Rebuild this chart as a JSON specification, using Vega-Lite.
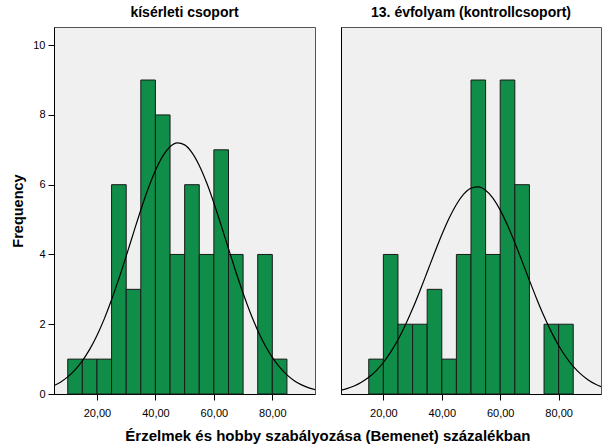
{
  "$schema": "https://vega.github.io/schema/vega-lite/v6.json",
  "padding": {"left": 10, "top": 5, "right": 5, "bottom": 5},
  "background": "white",
  "config": {
    "font": "Liberation Sans",
    "view": {"stroke": "#555555", "fill": "#F0F0F0", "strokeWidth": 1},
    "axis": {"grid": false, "labelFont": "Liberation Sans", "labelFontSize": 11, "labelColor": "#000000", "tickColor": "#000000", "domainColor": "#000000", "tickSize": 6, "titleFont": "Liberation Sans", "titleFontSize": 14.5, "titleFontWeight": "bold", "titleColor": "#000000"},
    "title": {"font": "Liberation Sans", "fontSize": 14, "fontWeight": "bold", "color": "#000000"},
    "concat": {"spacing": 24}
  },
  "title": {"text": "Érzelmek és hobby szabályozása (Bemenet) százalékban", "orient": "bottom", "anchor": "middle", "fontSize": 15, "offset": 10, "dx": 22},
  "datasets": {
    "barsA": [
      {"b0": 10, "b1": 15, "n": 1}, {"b0": 15, "b1": 20, "n": 1}, {"b0": 20, "b1": 25, "n": 1},
      {"b0": 25, "b1": 30, "n": 6}, {"b0": 30, "b1": 35, "n": 3}, {"b0": 35, "b1": 40, "n": 9},
      {"b0": 40, "b1": 45, "n": 8}, {"b0": 45, "b1": 50, "n": 4}, {"b0": 50, "b1": 55, "n": 6},
      {"b0": 55, "b1": 60, "n": 4}, {"b0": 60, "b1": 65, "n": 7}, {"b0": 65, "b1": 70, "n": 4},
      {"b0": 75, "b1": 80, "n": 4}, {"b0": 80, "b1": 85, "n": 1}
    ],
    "barsB": [
      {"b0": 15, "b1": 20, "n": 1}, {"b0": 20, "b1": 25, "n": 4}, {"b0": 25, "b1": 30, "n": 2},
      {"b0": 30, "b1": 35, "n": 2}, {"b0": 35, "b1": 40, "n": 3}, {"b0": 40, "b1": 45, "n": 1},
      {"b0": 45, "b1": 50, "n": 4}, {"b0": 50, "b1": 55, "n": 9}, {"b0": 55, "b1": 60, "n": 4},
      {"b0": 60, "b1": 65, "n": 9}, {"b0": 65, "b1": 70, "n": 6},
      {"b0": 75, "b1": 80, "n": 2}, {"b0": 80, "b1": 85, "n": 2}
    ],
    "curveA": [
      {"x": 5, "y": 0.230}, {"x": 7.5, "y": 0.340}, {"x": 10, "y": 0.490}, {"x": 12.5, "y": 0.691},
      {"x": 15, "y": 0.951}, {"x": 17.5, "y": 1.278}, {"x": 20, "y": 1.679}, {"x": 22.5, "y": 2.154},
      {"x": 25, "y": 2.700}, {"x": 27.5, "y": 3.306}, {"x": 30, "y": 3.954}, {"x": 32.5, "y": 4.620},
      {"x": 35, "y": 5.275}, {"x": 37.5, "y": 5.882}, {"x": 40, "y": 6.406}, {"x": 42.5, "y": 6.818},
      {"x": 45, "y": 7.088}, {"x": 47.5, "y": 7.198}, {"x": 50, "y": 7.141}, {"x": 52.5, "y": 6.921},
      {"x": 55, "y": 6.552}, {"x": 57.5, "y": 6.060}, {"x": 60, "y": 5.476}, {"x": 62.5, "y": 4.833},
      {"x": 65, "y": 4.167}, {"x": 67.5, "y": 3.510}, {"x": 70, "y": 2.888}, {"x": 72.5, "y": 2.321},
      {"x": 75, "y": 1.823}, {"x": 77.5, "y": 1.398}, {"x": 80, "y": 1.048}, {"x": 82.5, "y": 0.768},
      {"x": 85, "y": 0.549}, {"x": 87.5, "y": 0.383}, {"x": 90, "y": 0.262}, {"x": 92.5, "y": 0.174},
      {"x": 95, "y": 0.114}
    ],
    "curveB": [
      {"x": 5, "y": 0.102}, {"x": 7.5, "y": 0.155}, {"x": 10, "y": 0.231}, {"x": 12.5, "y": 0.336},
      {"x": 15, "y": 0.478}, {"x": 17.5, "y": 0.665}, {"x": 20, "y": 0.903}, {"x": 22.5, "y": 1.199},
      {"x": 25, "y": 1.555}, {"x": 27.5, "y": 1.971}, {"x": 30, "y": 2.441}, {"x": 32.5, "y": 2.955},
      {"x": 35, "y": 3.496}, {"x": 37.5, "y": 4.040}, {"x": 40, "y": 4.564}, {"x": 42.5, "y": 5.038},
      {"x": 45, "y": 5.433}, {"x": 47.5, "y": 5.727}, {"x": 50, "y": 5.898}, {"x": 52.5, "y": 5.937},
      {"x": 55, "y": 5.839}, {"x": 57.5, "y": 5.612}, {"x": 60, "y": 5.270}, {"x": 62.5, "y": 4.837},
      {"x": 65, "y": 4.338}, {"x": 67.5, "y": 3.802}, {"x": 70, "y": 3.256}, {"x": 72.5, "y": 2.725},
      {"x": 75, "y": 2.228}, {"x": 77.5, "y": 1.781}, {"x": 80, "y": 1.390}, {"x": 82.5, "y": 1.061},
      {"x": 85, "y": 0.791}, {"x": 87.5, "y": 0.576}, {"x": 90, "y": 0.411}, {"x": 92.5, "y": 0.286},
      {"x": 95, "y": 0.194}
    ]
  },
  "hconcat": [
    {
      "width": 261,
      "height": 367,
      "title": {"text": "kísérleti csoport", "anchor": "middle", "offset": 7},
      "layer": [
        {
          "data": {"name": "barsA"},
          "mark": {"type": "rect", "fill": "#108D48", "stroke": "#1a1a1a", "strokeWidth": 1},
          "encoding": {
            "x": {"field": "b0", "type": "quantitative", "scale": {"domain": [5.3, 94.6], "nice": false, "zero": false},
                  "axis": {"values": [20, 40, 60, 80], "title": null, "labelExpr": "replace(format(datum.value, '.2f'), '.', ',')", "labelPadding": 7}},
            "x2": {"field": "b1"},
            "y": {"field": "n", "type": "quantitative", "scale": {"domain": [0, 10.52], "nice": false},
                  "axis": {"values": [0, 2, 4, 6, 8, 10], "title": "Frequency", "titlePadding": 7, "labelPadding": 3}},
            "y2": {"datum": 0}
          }
        },
        {
          "data": {"name": "curveA"},
          "mark": {"type": "line", "color": "#000000", "strokeWidth": 1.2, "interpolate": "monotone", "clip": true},
          "encoding": {
            "x": {"field": "x", "type": "quantitative"},
            "y": {"field": "y", "type": "quantitative"}
          }
        }
      ]
    },
    {
      "width": 260,
      "height": 367,
      "title": {"text": "13. évfolyam (kontrollcsoport)", "anchor": "middle", "offset": 7},
      "layer": [
        {
          "data": {"name": "barsB"},
          "mark": {"type": "rect", "fill": "#108D48", "stroke": "#1a1a1a", "strokeWidth": 1},
          "encoding": {
            "x": {"field": "b0", "type": "quantitative", "scale": {"domain": [5.5, 94.5], "nice": false, "zero": false},
                  "axis": {"values": [20, 40, 60, 80], "title": null, "labelExpr": "replace(format(datum.value, '.2f'), '.', ',')", "labelPadding": 7}},
            "x2": {"field": "b1"},
            "y": {"field": "n", "type": "quantitative", "scale": {"domain": [0, 10.52], "nice": false},
                  "axis": {"labels": false, "ticks": false, "title": null}},
            "y2": {"datum": 0}
          }
        },
        {
          "data": {"name": "curveB"},
          "mark": {"type": "line", "color": "#000000", "strokeWidth": 1.2, "interpolate": "monotone", "clip": true},
          "encoding": {
            "x": {"field": "x", "type": "quantitative"},
            "y": {"field": "y", "type": "quantitative"}
          }
        }
      ]
    }
  ]
}
